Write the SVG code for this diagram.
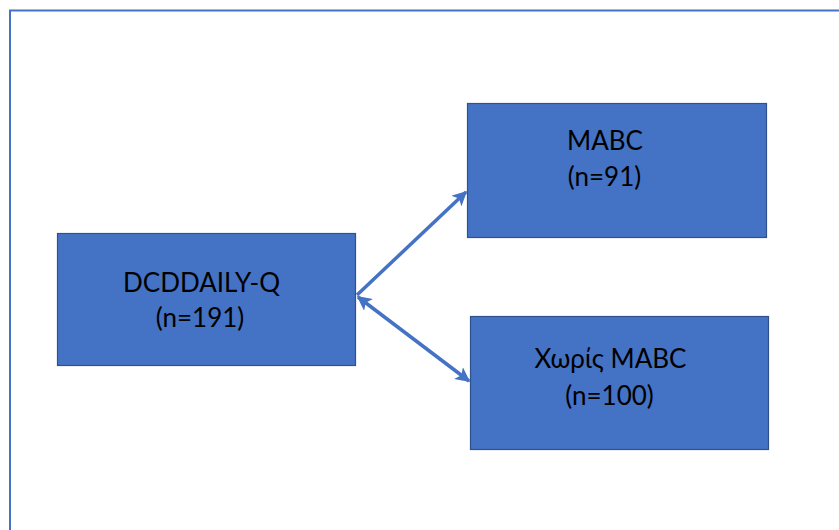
<svg xmlns="http://www.w3.org/2000/svg" width="839" height="530" viewBox="0 0 839 530">
<style>
.box{fill:#4472C4;stroke:#2F528F;stroke-width:1.2}
.t{font-family:Lato,"Open Sans",sans-serif;font-size:26px;fill:#000;text-anchor:middle}
.c{stroke:#4472C4;stroke-width:3.5;fill:none}
</style>
<defs>
<marker id="ah" viewBox="0 0 10 10" refX="9" refY="5" markerWidth="4.2" markerHeight="4.2" orient="auto-start-reverse" markerUnits="strokeWidth">
<path d="M0,0 L10,5 L0,10 L2.5,5 z" fill="#4472C4"/>
</marker>
</defs>
<rect x="0" y="0" width="839" height="530" fill="#fff"/>
<path d="M10,540 L10,10.5 L850,10.5" fill="none" stroke="#4472C4" stroke-width="2"/>
<g id="connectors">
<line class="c" x1="357" y1="295" x2="466" y2="192" marker-end="url(#ah)"/>
<line class="c" x1="358" y1="297" x2="469" y2="381" marker-start="url(#ah)" marker-end="url(#ah)"/>
</g>
<g id="node-dcd">
<rect class="box" x="57.5" y="233.5" width="298" height="132"/>
<text class="t" x="201.5" y="292">DCDDAILY-Q</text>
<text class="t" x="200" y="327">(n=191)</text>
</g>
<g id="node-mabc">
<rect class="box" x="467.5" y="103.5" width="299" height="134"/>
<text class="t" x="605" y="150">MABC</text>
<text class="t" x="604.5" y="186">(n=91)</text>
</g>
<g id="node-xoris">
<rect class="box" x="470.5" y="316.5" width="298" height="133"/>
<text class="t" x="610.5" y="368">Χωρίς MABC</text>
<text class="t" x="609.5" y="405">(n=100)</text>
</g>
</svg>
